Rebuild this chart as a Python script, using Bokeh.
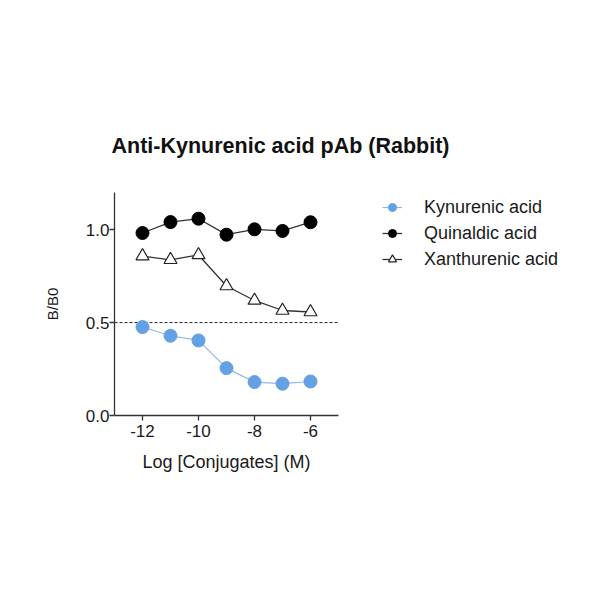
from bokeh.plotting import figure
from bokeh.models import Legend, LegendItem, FixedTicker, NumeralTickFormatter, Range1d, Title
from bokeh.embed import file_html
from bokeh.resources import INLINE

# ---- data ----
log_conc = [-12, -11, -10, -9, -8, -7, -6]
kynurenic = [0.476, 0.429, 0.404, 0.255, 0.180, 0.171, 0.183]
quinaldic = [0.982, 1.041, 1.059, 0.973, 1.002, 0.993, 1.040]
xanthurenic = [0.858, 0.838, 0.864, 0.697, 0.619, 0.565, 0.557]
series_names = ["Kynurenic acid", "Quinaldic acid", "Xanthurenic acid"]
x_ticks = [-12, -10, -8, -6]
x_tick_labels = ["-12", "-10", "-8", "-6"]
x_axis_span = (-13, -5)
y_ticks = [0.0, 0.5, 1.0]
half_line = 0.5

FONT = "Liberation Sans"
TXT = "#1a1a1a"

# layout: axis part is 224px wide; frame extends right to hold the legend
W, LEFT = 584, 114
frame_w = W - LEFT
axis_px = 224
x_end = x_axis_span[0] + (x_axis_span[1] - x_axis_span[0]) * frame_w / axis_px

p = figure(width=W, height=584, output_backend="svg", toolbar_location=None,
           x_range=Range1d(x_axis_span[0], x_end), y_range=Range1d(0, 1.2),
           min_border_left=LEFT, min_border_right=0,
           min_border_top=192, min_border_bottom=169,
           title="Anti-Kynurenic acid pAb (Rabbit)")
p.background_fill_color = "white"
p.border_fill_color = "white"
p.outline_line_color = None
p.grid.visible = False

p.title.text_font = FONT
p.title.text_font_size = "21.5px"
p.title.text_font_style = "bold"
p.title.text_color = "#111111"
p.title.align = "left"
p.title.offset = -3
p.title.standoff = 70

for ax in (p.xaxis[0], p.yaxis[0]):
    ax.axis_line_color = "#333333"
    ax.axis_line_width = 1.3
    ax.major_tick_line_color = "#333333"
    ax.major_tick_line_width = 1.3
    ax.major_tick_out = 5
    ax.major_tick_in = 0
    ax.minor_tick_line_color = None
    ax.major_label_text_font = FONT
    ax.major_label_text_font_size = "17px"
    ax.major_label_text_color = TXT
    ax.axis_label_text_font = FONT
    ax.axis_label_text_font_style = "normal"
    ax.axis_label_text_color = TXT

p.xaxis.bounds = x_axis_span
p.xaxis.ticker = FixedTicker(ticks=x_ticks)
p.xaxis.major_label_overrides = {t: s for t, s in zip(x_ticks, x_tick_labels)}
p.xaxis.major_label_standoff = 4

# x-axis title, aligned under the axis span (the frame is wider than the axis)
xlab = Title(text="Log [Conjugates] (M)", align="left", offset=28, standoff=20,
             vertical_align="bottom",
             text_font=FONT, text_font_size="18px", text_font_style="normal",
             text_color=TXT)
p.add_layout(xlab, "below")

p.yaxis.ticker = FixedTicker(ticks=y_ticks)
p.yaxis.formatter = NumeralTickFormatter(format="0.0")
p.yaxis.major_label_standoff = 0
p.yaxis.axis_label = "B/B0"
p.yaxis.axis_label_text_font_size = "15px"
p.yaxis.axis_label_standoff = 22

# dashed reference line at B/B0 = 0.5 across the axis span
p.line(list(x_axis_span), [half_line, half_line], line_color="#222222",
       line_width=1, line_dash="3 2")

BLUE = "#64a0e4"
l1 = p.line(log_conc, kynurenic, line_color="#8cb8ea", line_width=1.2)
m1 = p.scatter(log_conc, kynurenic, marker="circle", size=13, fill_color=BLUE, line_color=BLUE)
l2 = p.line(log_conc, quinaldic, line_color="#333333", line_width=1.3)
m2 = p.scatter(log_conc, quinaldic, marker="circle", size=13, fill_color="black", line_color="black")
l3 = p.line(log_conc, xanthurenic, line_color="#333333", line_width=1.3)
m3 = p.scatter(log_conc, xanthurenic, marker="triangle", size=13, fill_color="white",
               line_color="#222222", line_width=1.2)

legend = Legend(items=[LegendItem(label=series_names[0], renderers=[l1, m1]),
                       LegendItem(label=series_names[1], renderers=[l2, m2]),
                       LegendItem(label=series_names[2], renderers=[l3, m3])],
                location=(268, 145))
legend.border_line_color = None
legend.background_fill_alpha = 0
legend.padding = 0
legend.margin = 0
legend.spacing = 4
legend.glyph_width = 20
legend.glyph_height = 20
legend.label_height = 22
legend.label_standoff = 22
legend.label_text_font = FONT
legend.label_text_font_size = "18px"
legend.label_text_color = TXT
p.add_layout(legend, "center")

open("out.html", "w").write(file_html(p, INLINE))
